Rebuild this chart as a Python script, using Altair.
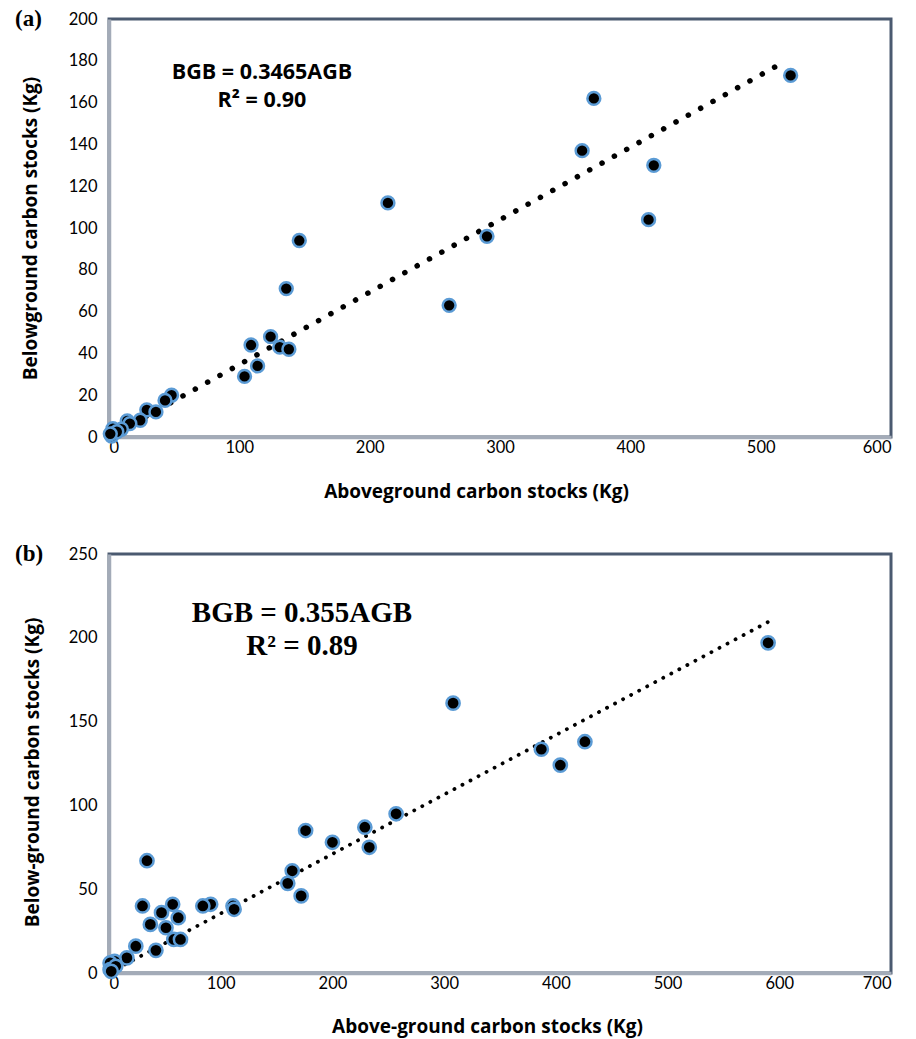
import altair as alt
import pandas as pd

# Panel (a): aboveground vs belowground carbon stocks (Kg)
agb_a = [523, 372, 363, 418, 414, 214, 290, 261, 146, 136, 109, 124, 131, 138,
         114, 104, 48, 43, 29, 36, 24, 14, 16, 9.5, 3, 2, 6, 1]
bgb_a = [173, 162, 137, 130, 104, 112, 96, 63, 94, 71, 44, 48, 43, 42,
         34, 29, 20, 17.5, 13, 12, 8, 7.7, 6.4, 3.7, 4, 0.5, 2.5, 1.5]

# Panel (b): above-ground vs below-ground carbon stocks (Kg)
agb_b = [590, 308, 387, 404, 426, 257, 229, 233, 200, 176, 164, 160, 172, 111,
         112, 91, 84, 34, 30, 57, 47, 62, 37, 51, 58, 64, 42, 24, 16, 5, 1, 1, 6, 2]
bgb_b = [197, 161, 133.5, 124, 138, 95, 87, 75, 78, 85, 61, 53.5, 46, 40,
         38, 41, 40, 67, 40, 41, 36, 33, 29, 27, 20, 20, 13.5, 16, 9, 7, 6, 2, 4, 1]

# Fitted regressions through the origin
slope_a, r2_a = 0.3465, "0.90"
slope_b, r2_b = 0.355, "0.89"
trend_a_x = [0, 518]
trend_b_x = [0, 590]

TICK_FONT = "Lato"
FRAME = "#4b5a70"
AXIS_LINE = "#a3abb8"
POINT_EDGE = "#5b9bd5"


def panel(agb, bgb, slope, trend_x, xmax, ymax, ystep, xtitle, ytitle,
          width, height, point_size, dot_gap, dot_width,
          eq_lines, eq_font, eq_size, eq_x, eq_y, eq_gap, tag,
          xtitle_pos, ytitle_pos):
    pts = pd.DataFrame({"agb": agb, "bgb": bgb})
    trend = pd.DataFrame({"agb": trend_x})
    trend["bgb"] = trend["agb"] * slope

    xscale = alt.Scale(domain=[0, xmax], nice=False, zero=True)
    yscale = alt.Scale(domain=[0, ymax], nice=False, zero=True)
    xaxis = alt.Axis(values=list(range(0, xmax + 1, 100)), title=xtitle,
                     titleX=xtitle_pos[0], titleY=xtitle_pos[1],
                     titleBaseline="middle", titleAlign="center",
                     labelPadding=2)
    yaxis = alt.Axis(values=list(range(0, ymax + 1, ystep)), title=ytitle,
                     titleX=ytitle_pos[0], titleY=ytitle_pos[1],
                     titleBaseline="middle", titleAlign="center",
                     labelPadding=12)

    line = alt.Chart(trend).mark_line(
        color="black", strokeWidth=dot_width, strokeDash=[0.1, dot_gap],
        strokeCap="round"
    ).encode(
        x=alt.X("agb:Q", scale=xscale, axis=xaxis),
        y=alt.Y("bgb:Q", scale=yscale, axis=yaxis),
    )

    dots = alt.Chart(pts).mark_point(
        filled=True, fill="black", stroke=POINT_EDGE, strokeWidth=2.5,
        size=point_size, opacity=1, shape="circle"
    ).encode(x="agb:Q", y="bgb:Q")

    eq = alt.Chart(pd.DataFrame({"t": [eq_lines[0]]})).mark_text(
        font=eq_font, fontSize=eq_size, fontWeight="bold", color="black",
        align="center", baseline="middle"
    ).encode(text="t:N", x=alt.value(eq_x), y=alt.value(eq_y))

    r2 = alt.Chart(pd.DataFrame({"t": [eq_lines[1]]})).mark_text(
        font=eq_font, fontSize=eq_size, fontWeight="bold", color="black",
        align="center", baseline="middle"
    ).encode(text="t:N", x=alt.value(eq_x), y=alt.value(eq_y + eq_gap))

    label = alt.Chart(pd.DataFrame({"t": [tag]})).mark_text(
        font="Liberation Serif", fontSize=23, fontWeight="bold", color="black",
        align="left", baseline="middle"
    ).encode(text="t:N", x=alt.value(-94), y=alt.value(0))

    return alt.layer(line, dots, eq, r2, label).properties(width=width, height=height)


top = panel(
    agb_a, bgb_a, slope_a, trend_a_x, 600, 200, 20,
    "Aboveground carbon stocks (Kg)", "Belowground carbon stocks (Kg)",
    782, 418, 165, 14, 5.5,
    [f"BGB = {slope_a}AGB", f"R² = {r2_a}"], "Open Sans", 21.5, 153, 54, 28,
    "(a)", (367, 54), (-79, 209),
)

bottom = panel(
    agb_b, bgb_b, slope_b, trend_b_x, 700, 250, 50,
    "Above-ground carbon stocks (Kg)", "Below-ground carbon stocks (Kg)",
    782, 419, 175, 9, 3.8,
    [f"BGB = {slope_b}AGB", f"R² = {r2_b}"], "Liberation Serif", 29, 193, 59, 33,
    "(b)", (378, 53), (-77, 218),
)

chart = alt.vconcat(top, bottom, spacing=117, bounds="flush").properties(
    autosize=alt.AutoSizeParams(type="pad"),
    padding={"left": 13, "top": 6, "right": 8, "bottom": 0},
    background="white",
).configure_view(
    stroke=FRAME, strokeWidth=3
).configure_axis(
    grid=False, ticks=False, domainColor=AXIS_LINE, domainWidth=3.5,
    labelFont=TICK_FONT, labelFontSize=16.5, labelColor="black",
    titleFont="Open Sans", titleFontSize=19, titleFontWeight="bold",
    titleColor="black",
)

chart.save("out.html", embed_options={"renderer": "svg", "actions": False})
